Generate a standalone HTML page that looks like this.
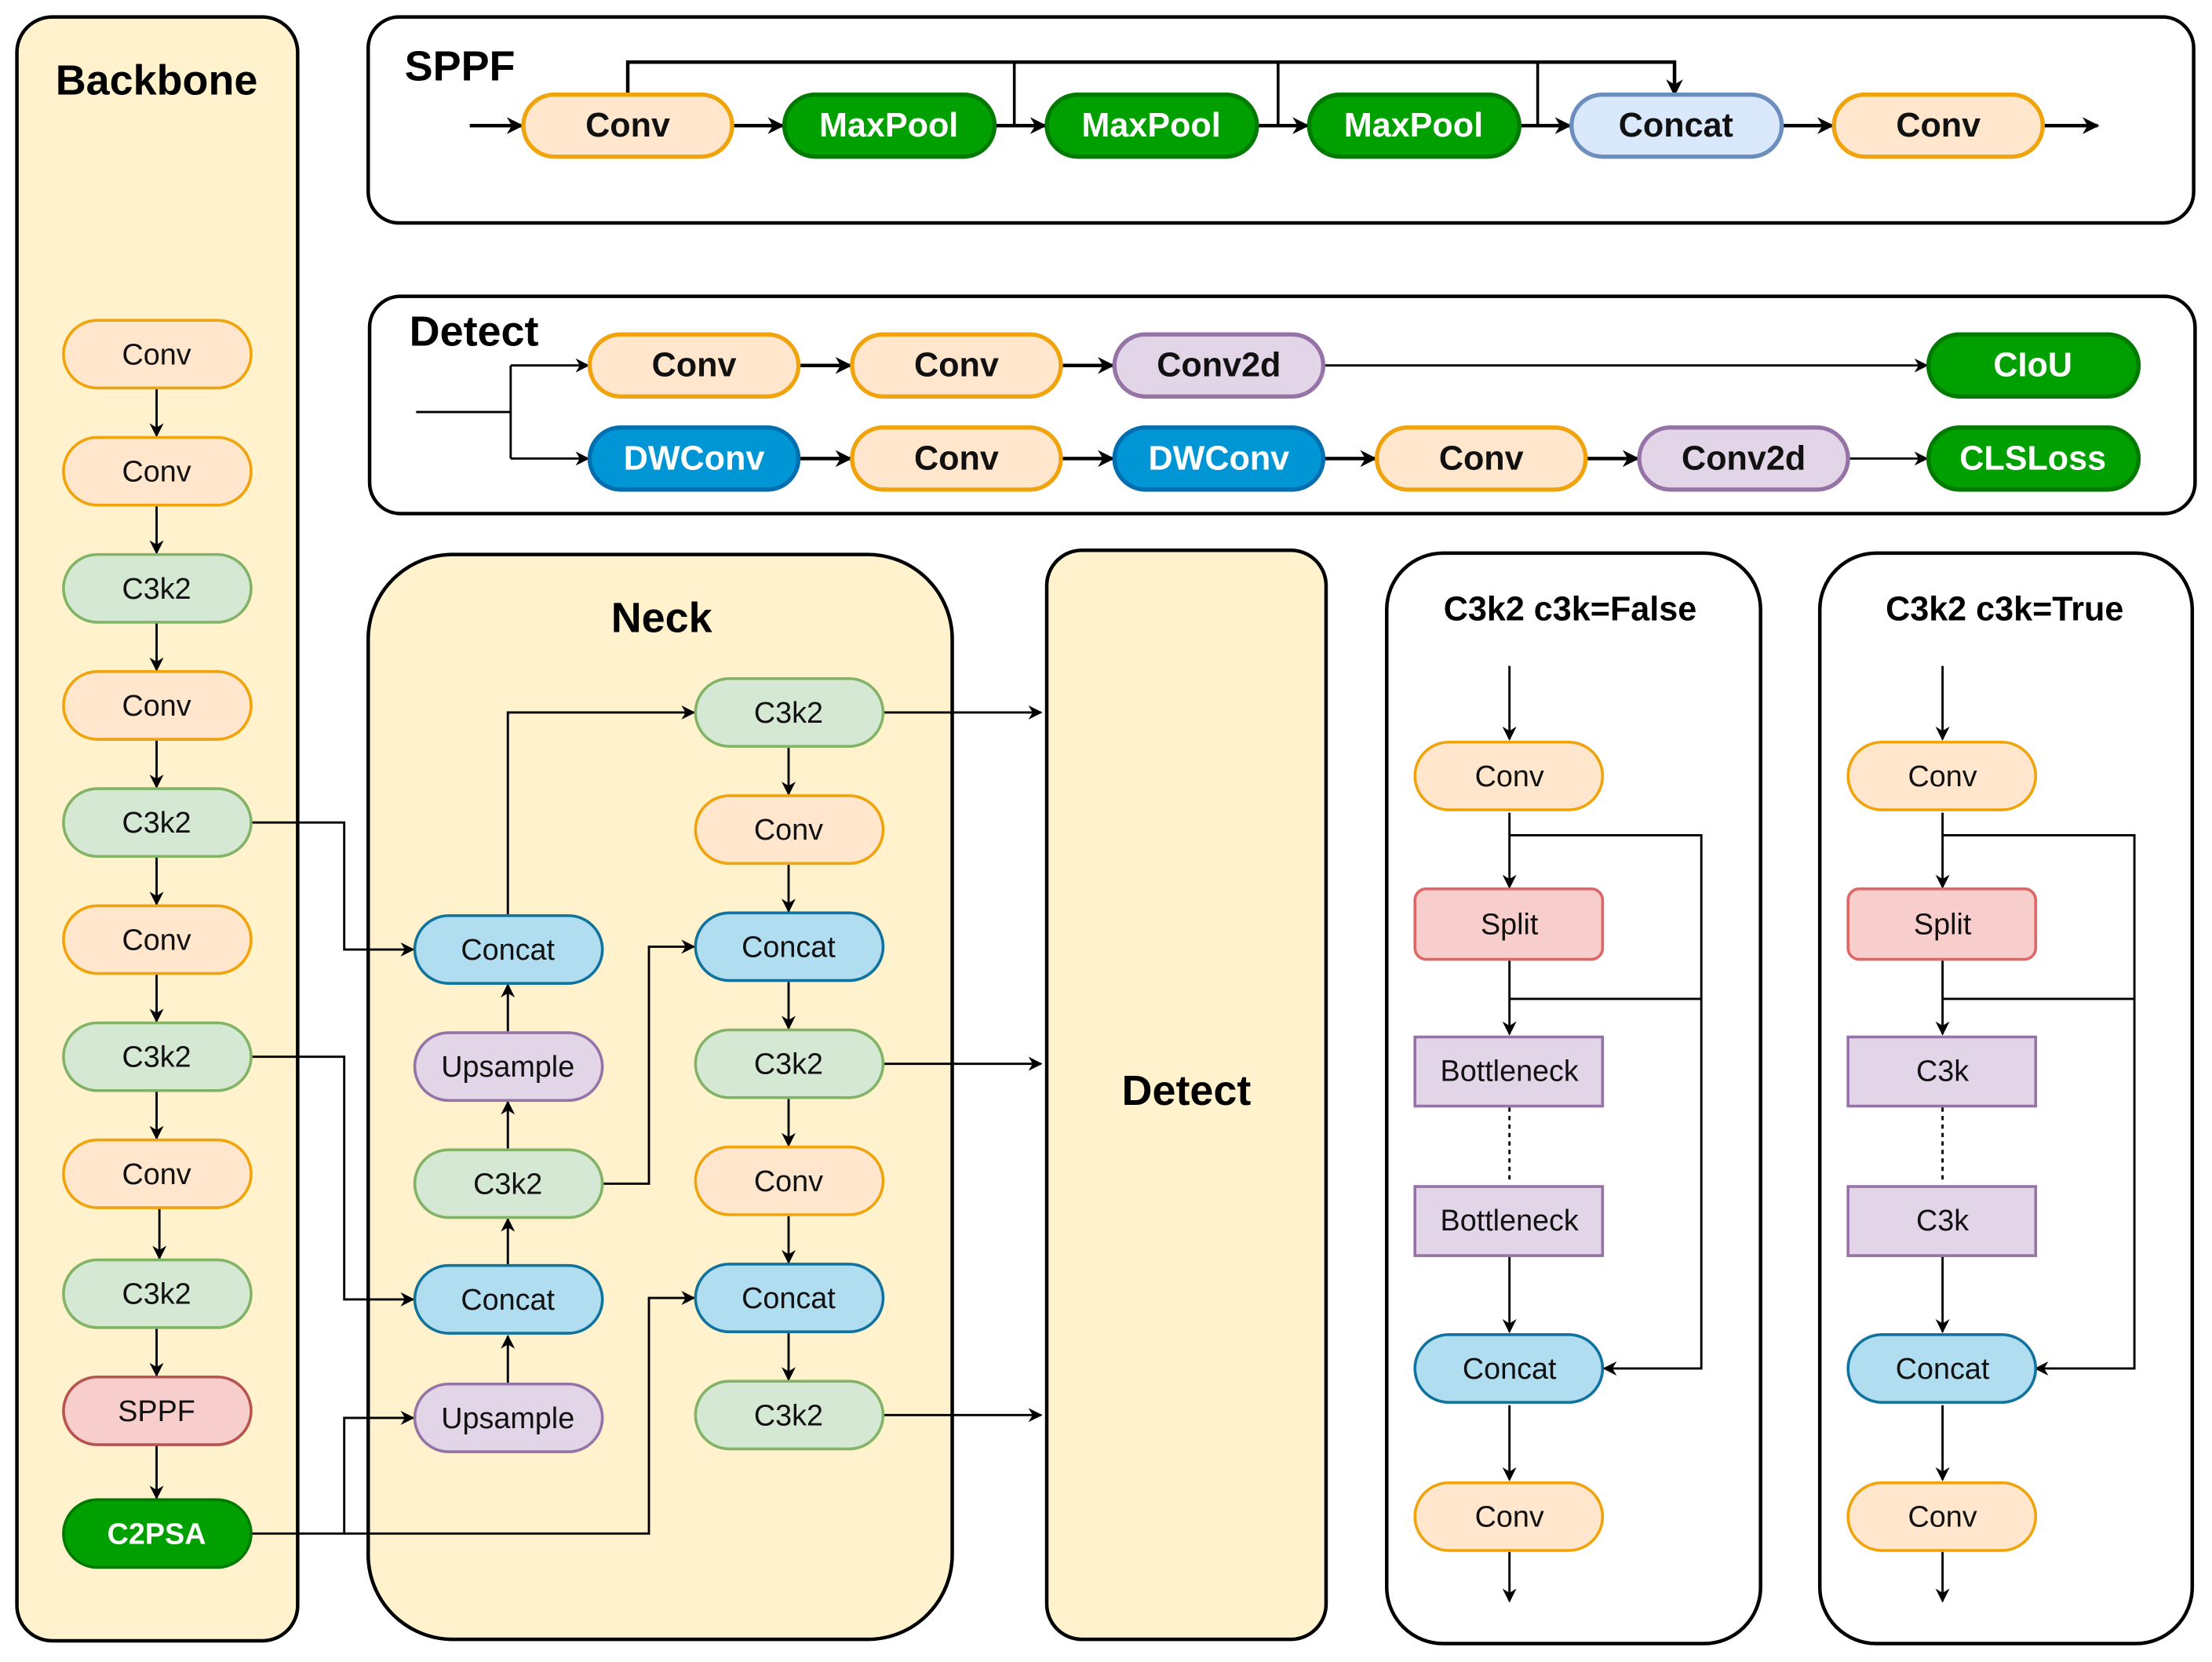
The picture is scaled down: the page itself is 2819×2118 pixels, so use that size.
<!DOCTYPE html>
<html><head><meta charset="utf-8"><style>
html,body{margin:0;padding:0;background:#fff}
svg{display:block}
text{font-family:"Liberation Sans",Arial,sans-serif;text-anchor:middle;dominant-baseline:central}
</style></head><body>
<svg width="2819" height="2118" viewBox="0 0 1568 1178" xmlns="http://www.w3.org/2000/svg">
<defs>
<marker id="a" viewBox="0 0 10 10" refX="9" refY="5" markerWidth="10" markerHeight="10" orient="auto" markerUnits="userSpaceOnUse"><path d="M0,0 L10,5 L0,10 L3,5 z" fill="#000"/></marker>
<marker id="b" viewBox="0 0 10 10" refX="9" refY="5" markerWidth="12" markerHeight="12" orient="auto" markerUnits="userSpaceOnUse"><path d="M0,0 L10,5 L0,10 L3,5 z" fill="#000"/></marker>
</defs>
<g fill="none" stroke="#000" stroke-width="2.5">
<rect x="12" y="12" width="199" height="1151" rx="25" fill="#fff2cc"/>
<rect x="261" y="12" width="1294" height="146" rx="22" fill="#fff"/>
<rect x="262" y="210" width="1294" height="154" rx="22" fill="#fff"/>
<rect x="261" y="393" width="414" height="769" rx="60" fill="#fff2cc"/>
<rect x="742" y="390" width="198" height="772" rx="25" fill="#fff2cc"/>
<rect x="983" y="392" width="265" height="773" rx="40" fill="#fff"/>
<rect x="1290" y="392" width="264" height="773" rx="40" fill="#fff"/>
</g>
<g font-weight="bold" font-size="30">
<text x="111" y="57">Backbone</text>
<text x="326" y="47">SPPF</text>
<text x="336" y="235">Detect</text>
<text x="469" y="438">Neck</text>
<text x="841" y="773">Detect</text>
</g>
<g font-weight="bold" font-size="24">
<text x="1113" y="432">C3k2 c3k=False</text>
<text x="1421" y="432">C3k2 c3k=True</text>
</g>

<g fill="none" stroke="#000" stroke-width="1.6" marker-end="url(#a)">
<line x1="111" y1="275" x2="111" y2="309"/>
<line x1="111" y1="358" x2="111" y2="392"/>
<line x1="111" y1="441" x2="111" y2="475"/>
<line x1="111" y1="524" x2="111" y2="558"/>
<line x1="111" y1="607" x2="111" y2="641"/>
<line x1="111" y1="690" x2="111" y2="724"/>
<line x1="111" y1="773" x2="111" y2="807"/>
<line x1="113" y1="856" x2="113" y2="892"/>
<line x1="111" y1="941" x2="111" y2="975"/>
<line x1="111" y1="1024" x2="111" y2="1062"/>
<polyline points="178,583 244,583 244,673 293,673"/>
<polyline points="178,749 244,749 244,921 293,921"/>
<polyline points="178,1087 244,1087 244,1005 293,1005"/>
<polyline points="244,1087 460,1087 460,920 492,920"/>
<line x1="360" y1="980" x2="360" y2="947"/>
<line x1="360" y1="897" x2="360" y2="864"/>
<line x1="360" y1="814" x2="360" y2="781"/>
<line x1="360" y1="731" x2="360" y2="698"/>
<polyline points="360,648 360,505 492,505"/>
<polyline points="427,839 460,839 460,671 492,671"/>
<line x1="559" y1="530" x2="559" y2="563"/>
<line x1="559" y1="613" x2="559" y2="646"/>
<line x1="559" y1="696" x2="559" y2="729"/>
<line x1="559" y1="779" x2="559" y2="812"/>
<line x1="559" y1="862" x2="559" y2="895"/>
<line x1="559" y1="945" x2="559" y2="978"/>
<line x1="626" y1="505" x2="738" y2="505"/>
<line x1="626" y1="754" x2="738" y2="754"/>
<line x1="626" y1="1003" x2="738" y2="1003"/>
<polyline points="362,259 417,259"/>
<polyline points="362,325 417,325"/>
<line x1="938" y1="259" x2="1366" y2="259"/>
<line x1="1310" y1="325" x2="1366" y2="325"/>
<line x1="1070" y1="472" x2="1070" y2="524"/>
<line x1="1070" y1="576" x2="1070" y2="629"/>
<line x1="1070" y1="681" x2="1070" y2="733"/>
<line x1="1070" y1="889" x2="1070" y2="944"/>
<line x1="1070" y1="996" x2="1070" y2="1049"/>
<line x1="1070" y1="1100" x2="1070" y2="1135"/>
<polyline points="1070,592 1206,592 1206,970 1137,970"/>
<line x1="1377" y1="472" x2="1377" y2="524"/>
<line x1="1377" y1="576" x2="1377" y2="629"/>
<line x1="1377" y1="681" x2="1377" y2="733"/>
<line x1="1377" y1="889" x2="1377" y2="944"/>
<line x1="1377" y1="996" x2="1377" y2="1049"/>
<line x1="1377" y1="1100" x2="1377" y2="1135"/>
<polyline points="1377,592 1513,592 1513,970 1443,970"/>
</g>
<g fill="none" stroke="#000" stroke-width="1.6">
<polyline points="295,292 362,292"/>
<line x1="362" y1="259" x2="362" y2="325"/>
<polyline points="1070,708 1206,708"/>
<polyline points="1377,708 1513,708"/>
<line x1="1070" y1="785" x2="1070" y2="839" stroke-dasharray="3,3"/>
<line x1="1377" y1="785" x2="1377" y2="839" stroke-dasharray="3,3"/>
</g>
<g fill="none" stroke="#000" stroke-width="2.5" marker-end="url(#b)">
<line x1="333" y1="89" x2="370" y2="89"/>
<line x1="519" y1="89" x2="555" y2="89"/>
<line x1="705" y1="89" x2="741" y2="89"/>
<line x1="891" y1="89" x2="927" y2="89"/>
<line x1="1077" y1="89" x2="1113" y2="89"/>
<line x1="1263" y1="89" x2="1299" y2="89"/>
<line x1="1448" y1="89" x2="1487" y2="89"/>
<polyline points="445,67 445,44 1187,44 1187,67"/>
<line x1="566" y1="259" x2="603" y2="259"/>
<line x1="752" y1="259" x2="789" y2="259"/>
<line x1="566" y1="325" x2="603" y2="325"/>
<line x1="752" y1="325" x2="789" y2="325"/>
<line x1="938" y1="325" x2="975" y2="325"/>
<line x1="1124" y1="325" x2="1161" y2="325"/>
</g>
<g fill="none" stroke="#000" stroke-width="2">
<polyline points="719,89 719,44"/>
<polyline points="906,89 906,44"/>
<polyline points="1090,89 1090,44"/>
</g>

<g stroke-width="2">
<g fill="#ffe6cc" stroke="#f0a30a">
<rect x="45" y="227" width="133" height="48" rx="24"/>
<rect x="45" y="310" width="133" height="48" rx="24"/>
<rect x="45" y="476" width="133" height="48" rx="24"/>
<rect x="45" y="642" width="133" height="48" rx="24"/>
<rect x="45" y="808" width="133" height="48" rx="24"/>
<rect x="493" y="564" width="133" height="48" rx="24"/>
<rect x="493" y="813" width="133" height="48" rx="24"/>
<rect x="1003" y="526" width="133" height="48" rx="24"/>
<rect x="1003" y="1051" width="133" height="48" rx="24"/>
<rect x="1310" y="526" width="133" height="48" rx="24"/>
<rect x="1310" y="1051" width="133" height="48" rx="24"/>
</g>
<g fill="#d5e8d4" stroke="#82b366">
<rect x="45" y="393" width="133" height="48" rx="24"/>
<rect x="45" y="559" width="133" height="48" rx="24"/>
<rect x="45" y="725" width="133" height="48" rx="24"/>
<rect x="45" y="893" width="133" height="48" rx="24"/>
<rect x="294" y="815" width="133" height="48" rx="24"/>
<rect x="493" y="481" width="133" height="48" rx="24"/>
<rect x="493" y="730" width="133" height="48" rx="24"/>
<rect x="493" y="979" width="133" height="48" rx="24"/>
</g>
<rect x="45" y="976" width="133" height="48" rx="24" fill="#f8cecc" stroke="#b85450"/>
<rect x="45" y="1063" width="133" height="48" rx="24" fill="#00a000" stroke="#007a00"/>
<g fill="#b1ddf0" stroke="#10739e">
<rect x="294" y="649" width="133" height="48" rx="24"/>
<rect x="294" y="897" width="133" height="48" rx="24"/>
<rect x="493" y="647" width="133" height="48" rx="24"/>
<rect x="493" y="896" width="133" height="48" rx="24"/>
<rect x="1003" y="946" width="133" height="48" rx="24"/>
<rect x="1310" y="946" width="133" height="48" rx="24"/>
</g>
<g fill="#e1d5e7" stroke="#9673a6">
<rect x="294" y="732" width="133" height="48" rx="24"/>
<rect x="294" y="981" width="133" height="48" rx="24"/>
<rect x="1003" y="735" width="133" height="49"/>
<rect x="1003" y="841" width="133" height="49"/>
<rect x="1310" y="735" width="133" height="49"/>
<rect x="1310" y="841" width="133" height="49"/>
</g>
<g fill="#f8cecc" stroke="#e06666">
<rect x="1003" y="630" width="133" height="50" rx="8"/>
<rect x="1310" y="630" width="133" height="50" rx="8"/>
</g>
</g>
<g stroke-width="3">
<g fill="#ffe6cc" stroke="#f0a30a">
<rect x="371" y="67" width="148" height="44" rx="22"/>
<rect x="1300" y="67" width="148" height="44" rx="22"/>
<rect x="418" y="237" width="148" height="44" rx="22"/>
<rect x="604" y="237" width="148" height="44" rx="22"/>
<rect x="604" y="303" width="148" height="44" rx="22"/>
<rect x="976" y="303" width="148" height="44" rx="22"/>
</g>
<g fill="#00a000" stroke="#007a00">
<rect x="556" y="67" width="149" height="44" rx="22"/>
<rect x="742" y="67" width="149" height="44" rx="22"/>
<rect x="928" y="67" width="149" height="44" rx="22"/>
<rect x="1367" y="237" width="149" height="44" rx="22"/>
<rect x="1367" y="303" width="149" height="44" rx="22"/>
</g>
<rect x="1114" y="67" width="149" height="44" rx="22" fill="#dae8fc" stroke="#6c8ebf"/>
<g fill="#e1d5e7" stroke="#9673a6">
<rect x="790" y="237" width="148" height="44" rx="22"/>
<rect x="1162" y="303" width="148" height="44" rx="22"/>
</g>
<g fill="#0096d6" stroke="#006eaf">
<rect x="418" y="303" width="148" height="44" rx="22"/>
<rect x="790" y="303" width="148" height="44" rx="22"/>
</g>
</g>

<g font-size="21" fill="#111">
<text x="111" y="251">Conv</text><text x="111" y="334">Conv</text><text x="111" y="417">C3k2</text>
<text x="111" y="500">Conv</text><text x="111" y="583">C3k2</text><text x="111" y="666">Conv</text>
<text x="111" y="749">C3k2</text><text x="111" y="832">Conv</text><text x="111" y="917">C3k2</text>
<text x="111" y="1000">SPPF</text>
<text x="360" y="673">Concat</text><text x="360" y="756">Upsample</text><text x="360" y="839">C3k2</text>
<text x="360" y="921">Concat</text><text x="360" y="1005">Upsample</text>
<text x="559" y="505">C3k2</text><text x="559" y="588">Conv</text><text x="559" y="671">Concat</text>
<text x="559" y="754">C3k2</text><text x="559" y="837">Conv</text><text x="559" y="920">Concat</text>
<text x="559" y="1003">C3k2</text>
<text x="1070" y="550">Conv</text><text x="1070" y="655">Split</text><text x="1070" y="759">Bottleneck</text>
<text x="1070" y="865">Bottleneck</text><text x="1070" y="970">Concat</text><text x="1070" y="1075">Conv</text>
<text x="1377" y="550">Conv</text><text x="1377" y="655">Split</text><text x="1377" y="759">C3k</text>
<text x="1377" y="865">C3k</text><text x="1377" y="970">Concat</text><text x="1377" y="1075">Conv</text>
</g>
<text x="111" y="1087" font-size="21" font-weight="bold" fill="#fff">C2PSA</text>
<g font-size="24" font-weight="bold" fill="#111">
<text x="445" y="89">Conv</text><text x="1188" y="89">Concat</text><text x="1374" y="89">Conv</text>
<text x="492" y="259">Conv</text><text x="678" y="259">Conv</text><text x="864" y="259">Conv2d</text>
<text x="678" y="325">Conv</text><text x="1050" y="325">Conv</text><text x="1236" y="325">Conv2d</text>
</g>
<g font-size="24" font-weight="bold" fill="#fff">
<text x="630" y="89">MaxPool</text><text x="816" y="89">MaxPool</text><text x="1002" y="89">MaxPool</text>
<text x="1441" y="259">CIoU</text><text x="1441" y="325">CLSLoss</text>
<text x="492" y="325">DWConv</text><text x="864" y="325">DWConv</text>
</g>
</svg>
</body></html>
